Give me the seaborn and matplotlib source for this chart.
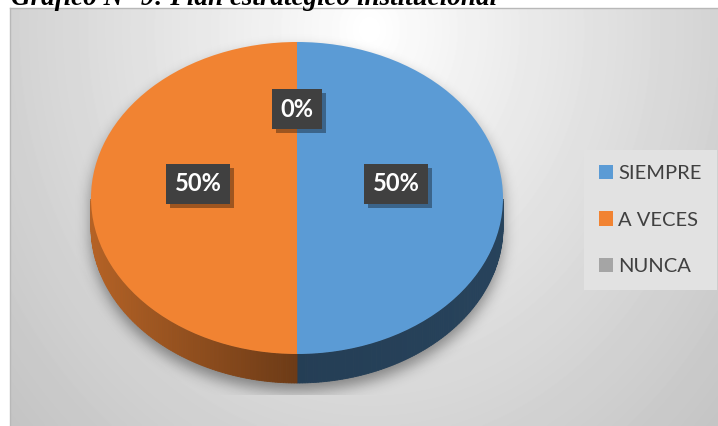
import numpy as np
import matplotlib
matplotlib.use("Agg")
import matplotlib.pyplot as plt
from matplotlib.patches import Polygon, Patch
from matplotlib import patheffects
import seaborn as sns

# ---- data -------------------------------------------------------------
categories = ["SIEMPRE", "A VECES", "NUNCA"]
percentages = [50, 50, 0]
slice_colors = ["#5B9BD5", "#F18332", "#A5A5A5"]
title_text = "Gráfico N° 9: Plan estratégico institucional"

sns.set_theme(style="white")
plt.rcParams["font.family"] = ["Lato", "DejaVu Sans"]

W, H = 718, 426
fig = plt.figure(figsize=(W / 100, H / 100), dpi=100)
fig.patch.set_facecolor("white")

# ---- chart area background (radial gradient + pie shadow) -------------
X0, Y0 = 10, 8
bg = fig.add_axes([X0 / W, 0, (W - X0) / W, (H - Y0) / H])
bg.set_xlim(X0, W)
bg.set_ylim(H, Y0)
bg.set_xticks([])
bg.set_yticks([])
for side, sp in bg.spines.items():
    sp.set_visible(side in ("top", "left"))
    sp.set_color("#b8b8b8")
    sp.set_linewidth(1.0)

xs = np.arange(X0, W) + 0.5
ys = np.arange(Y0, H) + 0.5
XX, YY = np.meshgrid(xs, ys)
dist = np.sqrt(((XX - 370) / 360) ** 2 + ((YY - 30) / 430) ** 2)
shade = np.clip(256 - 46 * dist ** 0.9, 0, 255) / 255
ext = (X0, W, H, Y0)
bg.imshow(shade, cmap="gray", vmin=0, vmax=1, extent=ext, aspect="auto",
          interpolation="bilinear", zorder=0)

# pie geometry in pixels (top face ellipse + side depth)
cx, cy, rx, ry, depth = 297, 198, 206, 156, 29

u = (XX - cx) / rx
hh = ry * np.sqrt(np.clip(1 - u ** 2, 0, None))
off = 8
mask = ((np.abs(u) <= 1) & (YY >= cy - hh + off) &
        (YY <= cy + depth + hh + off)).astype(float)


def gblur(a, s):
    r = int(3 * s)
    k = np.exp(-0.5 * (np.arange(-r, r + 1) / s) ** 2)
    k /= k.sum()
    a = np.apply_along_axis(lambda m: np.convolve(m, k, mode="same"), 0, a)
    a = np.apply_along_axis(lambda m: np.convolve(m, k, mode="same"), 1, a)
    return a


sh = gblur(mask, 7)
sh[YY > 395] = 0
rgba = np.zeros(sh.shape + (4,))
rgba[..., 3] = 0.4 * sh
bg.imshow(rgba, extent=ext, aspect="auto", interpolation="bilinear", zorder=1)

# ---- pie ---------------------------------------------------------------
ax = fig.add_axes([0, 0, 1, 1])
ax.patch.set_alpha(0)
wedges, _ = ax.pie(percentages, colors=slice_colors, startangle=90,
                   counterclock=False, radius=1, center=(0, 0),
                   wedgeprops=dict(linewidth=0, zorder=3))
ax.set_aspect("auto")
ax.set_xlim((0 - cx) / rx, (W - cx) / rx)
ax.set_ylim((cy - H) / ry, cy / ry)
ax.axis("off")

D = depth / ry
fr = np.array(percentages, dtype=float) / sum(percentages)


def side_factor(x):
    if x < 0:
        return 0.75 - 0.30 * (x + 1)
    return 0.40 + 0.03 * x


start = 90.0
cum = 0.0
for val, col, pct in zip(fr, slice_colors, percentages):
    a0 = start - 360 * cum
    a1 = start - 360 * (cum + val)
    th = np.radians(np.linspace(a1, a0, 240))
    th = th[np.sin(th) <= 1e-9]
    base = np.array(matplotlib.colors.to_rgb(col))
    for t1, t2 in zip(th[:-1], th[1:]):
        x1, y1 = np.cos(t1), np.sin(t1)
        x2, y2 = np.cos(t2), np.sin(t2)
        c = np.clip(base * side_factor((x1 + x2) / 2), 0, 1)
        ax.add_patch(Polygon([(x1, y1), (x2, y2), (x2, y2 - D), (x1, y1 - D)],
                             closed=True, facecolor=c, edgecolor=c,
                             linewidth=0.6, zorder=2))
    # value label
    mid = np.radians(start - 360 * (cum + val / 2))
    lx, ly = 0.48 * np.cos(mid), 0.48 * np.sin(mid) + 0.09
    txt = ax.text(lx, ly, f"{pct:.0f}%", ha="center", va="center",
                  color="white", fontsize=17, fontweight="bold", zorder=6,
                  bbox=dict(boxstyle="square,pad=0.36", fc="#404040",
                            ec="none"))
    txt.get_bbox_patch().set_path_effects(
        [patheffects.withSimplePatchShadow(offset=(3, -3),
                                           shadow_rgbFace="black", alpha=0.35),
         patheffects.Normal()])
    cum += val

# ---- legend ------------------------------------------------------------
handles = [Patch(facecolor=c, edgecolor="none", label=l)
           for c, l in zip(slice_colors, categories)]
leg = ax.legend(handles=handles, loc="upper left",
                bbox_to_anchor=(584 / W, 1 - 150 / H),
                bbox_transform=fig.transFigure, frameon=True, fontsize=14.5,
                labelspacing=1.45, handlelength=0.7, handleheight=0.7,
                handletextpad=0.25, borderpad=0.75, borderaxespad=0,
                fancybox=False)
frame = leg.get_frame()
frame.set_facecolor("#e2e2e2")
frame.set_edgecolor("none")
frame.set_alpha(1)
for t in leg.get_texts():
    t.set_color("#404040")

# ---- title (partly above the page edge) --------------------------------
fig.text(11 / W, 1 - 5 / H, title_text, family=["Liberation Serif"],
         fontweight="bold", style="italic", fontsize=19.5, ha="left",
         va="baseline", color="black")

fig.savefig("out.png", dpi=100)
